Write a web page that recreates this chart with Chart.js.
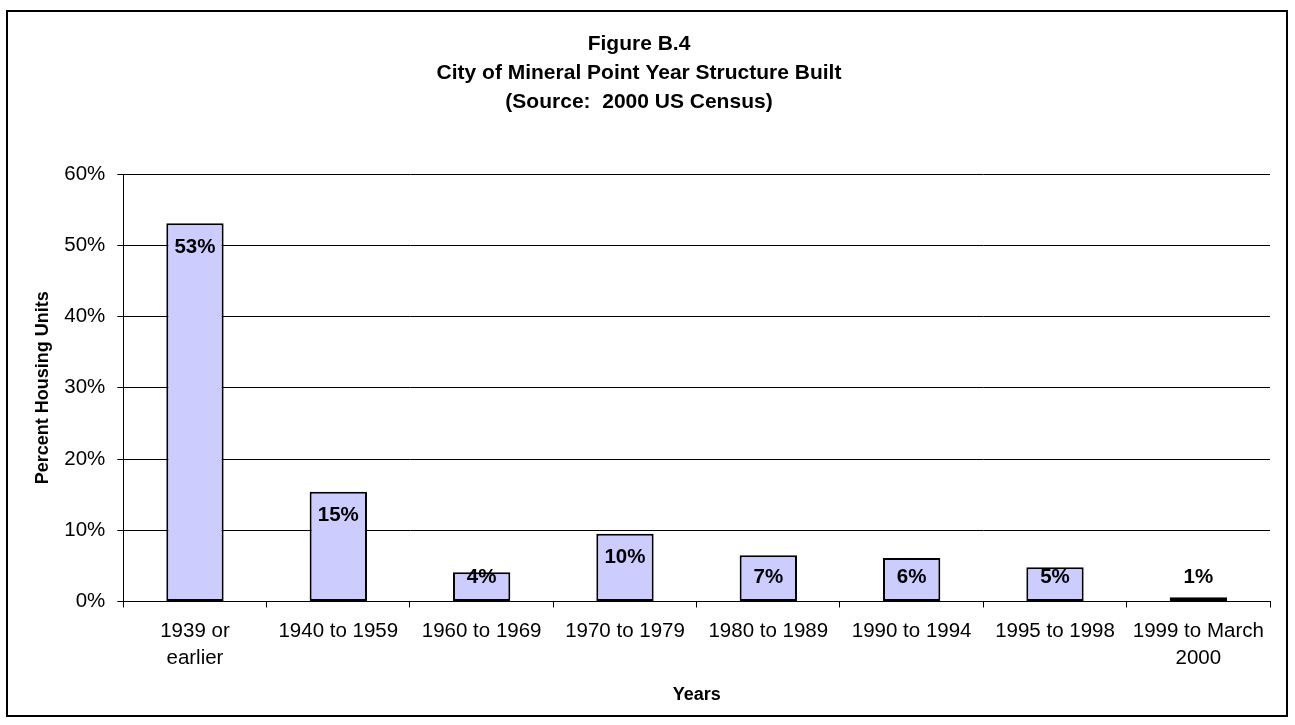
<!DOCTYPE html>
<html>
<head>
<meta charset="utf-8">
<title>Figure B.4</title>
<script src="https://cdn.jsdelivr.net/npm/chart.js@4"></script>
<style>
  body { margin: 0; background: #ffffff; }
  #wrap { width: 1295px; height: 725px; }
</style>
</head>
<body>
<div id="wrap"><canvas id="yearBuiltChart" width="1295" height="725"></canvas></div>
<script>
// categories and values (percent of housing units)
const yearCategories = [
  ['1939 or', 'earlier'],
  '1940 to 1959',
  '1960 to 1969',
  '1970 to 1979',
  '1980 to 1989',
  '1990 to 1994',
  '1995 to 1998',
  ['1999 to March', '2000']
];
const percentUnits = [53.1, 15.4, 4.1, 9.5, 6.5, 6.1, 4.8, 0.6];
const yTickValues = [0, 10, 20, 30, 40, 50, 60];
const titleLines = ['Figure B.4', 'City of Mineral Point Year Structure Built', '(Source:  2000 US Census)'];

const FONT = "'Liberation Sans', Arial, sans-serif";

// outer black frame round the whole chart
const framePlugin = {
  id: 'frame',
  beforeDraw(chart) {
    const ctx = chart.ctx;
    ctx.save();
    ctx.fillStyle = '#ffffff';
    ctx.fillRect(0, 0, chart.width, chart.height);
    ctx.strokeStyle = '#000000';
    ctx.lineWidth = 2;
    ctx.strokeRect(7, 11, 1280, 705);
    ctx.restore();
  }
};

// value labels, inside the top of each bar but never lower than near the axis
const valueLabelPlugin = {
  id: 'valueLabels',
  afterDatasetsDraw(chart) {
    const ctx = chart.ctx;
    const meta = chart.getDatasetMeta(0);
    ctx.save();
    ctx.font = 'bold 20.5px ' + FONT;
    ctx.fillStyle = '#000000';
    ctx.textAlign = 'center';
    ctx.textBaseline = 'middle';
    meta.data.forEach((bar, i) => {
      const top = Math.min(bar.y, bar.base);
      const y = Math.min(top + 24, bar.base - 24);
      ctx.fillText(Math.round(percentUnits[i]) + '%', bar.x, y);
    });
    ctx.restore();
  }
};

function createChart() {
  const ctx = document.getElementById('yearBuiltChart').getContext('2d');
  return new Chart(ctx, {
    type: 'bar',
    data: {
      labels: yearCategories,
      datasets: [
        {
          label: 'Percent Housing Units',
          data: percentUnits,
          backgroundColor: '#ccccff',
          borderColor: '#000000',
          borderWidth: 2,
          borderSkipped: false,
          barPercentage: 0.4,
          categoryPercentage: 1.0,
        },
      ],
    },
    options: {
      responsive: false,
      animation: false,
      devicePixelRatio: 1,
      layout: {
        padding: { top: 11, left: 8, right: 25, bottom: 8 },
      },
      plugins: {
        legend: { display: false },
        tooltip: { enabled: false },
        title: {
          display: true,
          text: titleLines,
          color: '#000000',
          font: { family: FONT, size: 21, weight: 'bold', lineHeight: 29 / 21 },
          padding: { top: 18.5, bottom: 57.5 },
        },
      },
      scales: {
        x: {
          afterFit(scale) { scale.height = 115.5; },
          grid: {
            display: true,
            offset: true,
            drawOnChartArea: false,
            drawTicks: true,
            tickLength: 6,
            color: '#000000',
          },
          border: { display: true, color: '#000000', width: 1 },
          ticks: {
            color: '#000000',
            padding: 11,
            maxRotation: 0,
            autoSkip: false,
            font: { family: FONT, size: 20.5, lineHeight: 1.3 },
          },
          title: {
            display: true,
            text: 'Years',
            color: '#000000',
            font: { family: FONT, size: 18, weight: 'bold', lineHeight: 1.2 },
            padding: { top: 0, bottom: 11 },
          },
        },
        y: {
          min: 0,
          max: 60,
          afterFit(scale) { scale.width = 115.3; },
          afterBuildTicks(scale) {
            scale.ticks = yTickValues.map(v => ({ value: v }));
          },
          grid: {
            color: '#000000',
            lineWidth: 1,
            drawTicks: true,
            tickLength: 6,
          },
          border: { display: true, color: '#000000', width: 1 },
          ticks: {
            color: '#000000',
            padding: 12,
            font: { family: FONT, size: 20.5 },
            callback: value => value + '%',
          },
          title: {
            display: true,
            text: 'Percent Housing Units',
            color: '#000000',
            font: { family: FONT, size: 18, weight: 'bold', lineHeight: 1.2 },
            padding: { top: 24, bottom: 0 },
          },
        },
      },
    },
    plugins: [framePlugin, valueLabelPlugin],
  });
}

createChart();
</script>
</body>
</html>
